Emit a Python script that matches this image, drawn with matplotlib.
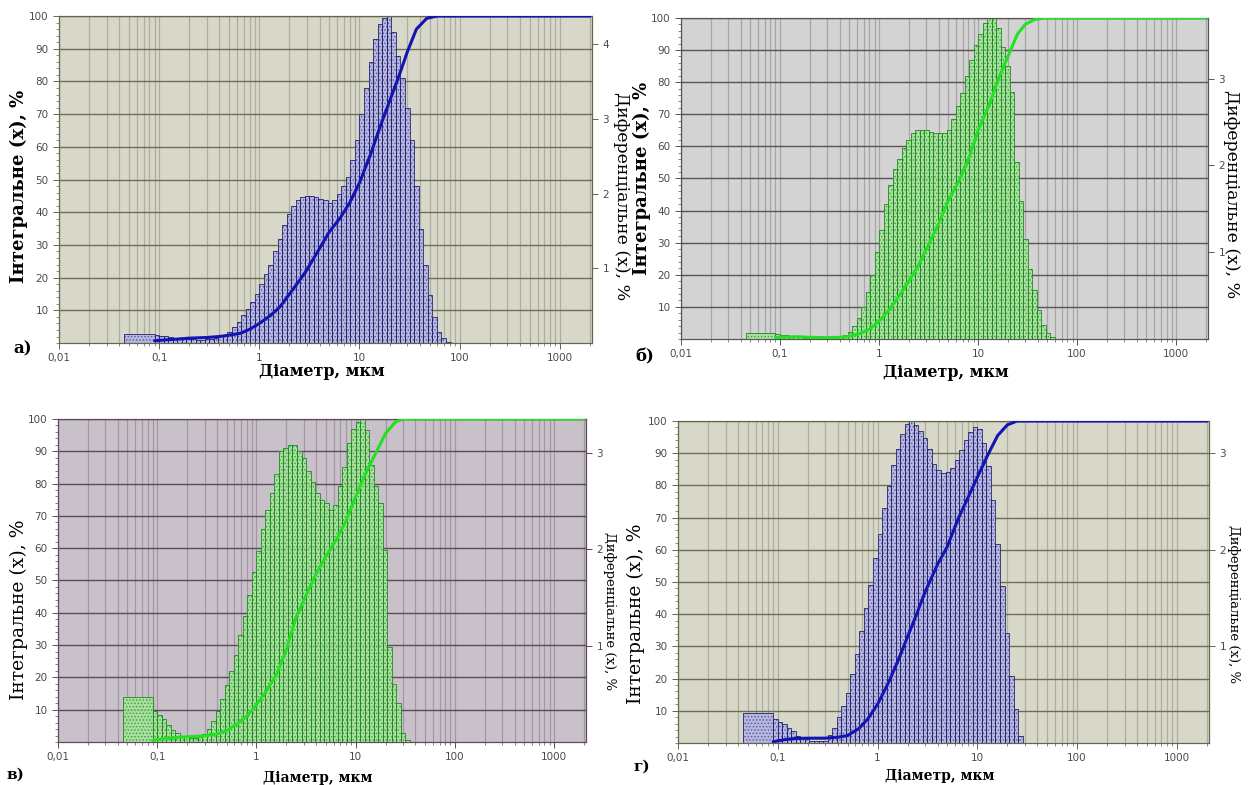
import numpy as np
import matplotlib
matplotlib.use('Agg')
import matplotlib.pyplot as plt
from matplotlib.ticker import MultipleLocator, FixedLocator, FixedFormatter, LogLocator, NullFormatter

plt.rcParams['hatch.linewidth'] = 0.7

# analyser channels: one wide channel 0.045-0.09 um, then 22 channels per decade from 0.09 um
first_channel = [0.045, 0.09]
channels_per_decade = 22
edges = 0.09 * 10 ** (np.arange(66) / channels_per_decade)

x_ticks = [0.01, 0.1, 1, 10, 100, 1000]
x_tick_labels = ['0,01', '0,1', '1', '10', '100', '1000']

# differential distribution, % (first wide channel + regular channels)
first_a, first_b, first_c, first_d = 0.12, 0.074, 0.47, 0.31
diff_a = [0.11, 0.10, 0.09, 0.08, 0.07, 0.065, 0.057, 0.053, 0.048, 0.044,
          0.044, 0.048, 0.057, 0.074, 0.088, 0.11, 0.15, 0.22, 0.28, 0.37,
          0.46, 0.55, 0.66, 0.79, 0.92, 1.05, 1.23, 1.40, 1.58, 1.73,
          1.84, 1.91, 1.95, 1.97, 1.97, 1.95, 1.93, 1.91, 1.88, 1.91,
          1.99, 2.10, 2.23, 2.45, 2.72, 3.07, 3.42, 3.77, 4.07, 4.27,
          4.36, 4.38, 4.16, 3.85, 3.55, 3.15, 2.72, 2.10, 1.53, 1.05,
          0.64, 0.35, 0.15, 0.066, 0.018]
diff_b = [0.059, 0.048, 0.041, 0.033, 0.026, 0.019, 0.015, 0.011, 0.011, 0.011,
          0.011, 0.011, 0.011, 0.015, 0.022, 0.044, 0.081, 0.15, 0.24, 0.37,
          0.54, 0.74, 1.00, 1.26, 1.55, 1.78, 1.96, 2.07, 2.20, 2.29,
          2.37, 2.41, 2.41, 2.41, 2.39, 2.37, 2.37, 2.37, 2.41, 2.53,
          2.68, 2.83, 3.03, 3.22, 3.39, 3.52, 3.64, 3.70, 3.70, 3.59,
          3.37, 3.15, 2.85, 2.04, 1.59, 1.15, 0.81, 0.56, 0.33, 0.16,
          0.07, 0.019]
diff_c = [0.325, 0.28, 0.24, 0.18, 0.124, 0.09, 0.067, 0.05, 0.04, 0.04,
          0.05, 0.084, 0.134, 0.22, 0.32, 0.45, 0.59, 0.74, 0.90, 1.11,
          1.31, 1.52, 1.76, 1.98, 2.21, 2.41, 2.58, 2.78, 3.02, 3.05,
          3.08, 3.08, 3.02, 2.95, 2.81, 2.70, 2.58, 2.51, 2.48, 2.41,
          2.46, 2.65, 2.85, 3.10, 3.25, 3.32, 3.35, 3.24, 2.87, 2.65,
          2.48, 1.99, 0.99, 0.60, 0.40, 0.094, 0.023]
diff_d = [0.25, 0.22, 0.20, 0.16, 0.12, 0.077, 0.06, 0.04, 0.023, 0.017,
          0.017, 0.023, 0.083, 0.16, 0.27, 0.38, 0.52, 0.71, 0.92, 1.16,
          1.40, 1.63, 1.91, 2.16, 2.43, 2.66, 2.87, 3.04, 3.20, 3.30,
          3.33, 3.29, 3.23, 3.15, 3.04, 2.89, 2.82, 2.79, 2.80, 2.84,
          2.93, 3.03, 3.13, 3.22, 3.27, 3.25, 3.10, 2.86, 2.51, 2.06,
          1.62, 1.14, 0.69, 0.35, 0.077]

# integral (cumulative) distribution, %
cum_size = [0.09, 0.12, 0.15, 0.2, 0.3, 0.4, 0.5, 0.65, 0.8, 1.0, 1.3, 1.6, 2.0, 2.5, 3.0,
            4.0, 5.0, 6.5, 8, 10, 13, 16, 20, 25, 30, 37, 47, 60, 2000]
cum_a = [0.7, 1.0, 1.2, 1.5, 1.7, 2.0, 2.4, 3.0, 4.2, 6.0, 8.5, 11, 15, 19, 22.5,
         29, 34, 38.5, 43, 49, 58, 66, 74, 82, 89, 96, 99.3, 100, 100]
cum_b = [0.5, 0.6, 0.7, 0.5, 0.4, 0.5, 0.8, 1.8, 3, 5.5, 9.5, 13.5, 18, 23, 28,
         36, 43, 49.5, 56, 65, 73, 81, 88, 95, 98, 99.5, 100, 100, 100]
cum_c = [0.5, 1.0, 1.4, 1.6, 1.9, 2.5, 3.5, 5.8, 8, 11.5, 16.5, 21, 28.5, 38.5, 44,
         52, 57.5, 63, 68.5, 76, 84, 89.5, 95.5, 99, 100, 100, 100, 100, 100]
cum_d = [0.4, 1.1, 1.4, 1.5, 1.5, 1.8, 2.3, 4.5, 7.5, 12, 19, 25.5, 33, 40.5, 47,
         55.5, 61, 70, 76, 82.5, 90, 95.5, 98.8, 100, 100, 100, 100, 100, 100]

olive = dict(bg='#d8d8ca', hgrid='#6e6e50', vgrid='#aeae9e', spine='#66664c')
grey = dict(bg='#d3d3d3', hgrid='#555555', vgrid='#a6a6a6', spine='#555555')
mauve = dict(bg='#c9c1c9', hgrid='#5a4a5a', vgrid='#a496a4', spine='#5a4a5a')
blue = dict(fill='#b6b6e2', dots='#5050a4', edge='#24246e', line='#1414b4')
green = dict(fill='#a8e49e', dots='#34a034', edge='#1f8a1f', line='#22e022')

# label anchors in axes coordinates: left label, x label, right label, panel letter
panels = [
    dict(rect=[0.047, 0.563, 0.4244, 0.4166], first=first_a, diff=diff_a, cum=cum_a, rmax=4.38,
         theme=olive, col=blue, letter='а)', big=True,
         pos=[(-0.058, 0.48), (0.493, -0.062), (1.071, 0.45), (-0.069, -0.018)]),
    dict(rect=[0.5422, 0.5682, 0.4196, 0.4089], first=first_b, diff=diff_b, cum=cum_b, rmax=3.70,
         theme=grey, col=green, letter='б)', big=True,
         pos=[(-0.057, 0.50), (0.503, -0.078), (1.061, 0.45), (-0.068, -0.056)]),
    dict(rect=[0.0462, 0.0548, 0.4204, 0.4115], first=first_c, diff=diff_c, cum=cum_c, rmax=3.35,
         theme=mauve, col=green, letter='в)', big=False,
         pos=[(-0.057, 0.41), (0.492, -0.09), (1.057, 0.405), (-0.08, -0.102)]),
    dict(rect=[0.5398, 0.0535, 0.4228, 0.4102], first=first_d, diff=diff_d, cum=cum_d, rmax=3.33,
         theme=olive, col=blue, letter='г)', big=False,
         pos=[(-0.062, 0.40), (0.493, -0.081), (1.058, 0.43), (-0.068, -0.075)]),
]

fig = plt.figure(figsize=(12.56, 7.85), dpi=100)
serif = 'DejaVu Serif'

for p in panels:
    th, col = p['theme'], p['col']
    ax = fig.add_axes(p['rect'])
    ax.set_facecolor(th['bg'])
    ax.set_xscale('log')
    ax.set_xlim(0.01, 2100)
    ax.set_ylim(0, 100)
    ax.xaxis.set_major_locator(FixedLocator(x_ticks))
    ax.xaxis.set_major_formatter(FixedFormatter(x_tick_labels))
    ax.xaxis.set_minor_locator(LogLocator(base=10, subs=np.arange(2, 10), numticks=20))
    ax.xaxis.set_minor_formatter(NullFormatter())
    ax.set_yticks(np.arange(10, 101, 10))
    ax.yaxis.set_minor_locator(MultipleLocator(2))
    ax.grid(axis='y', which='major', color=th['hgrid'], lw=1.0)
    ax.grid(axis='x', which='both', color=th['vgrid'], lw=0.9)
    ax.set_axisbelow(True)
    ax.tick_params(which='both', direction='out', colors=th['spine'], labelcolor='#4a4a4a',
                   labelsize=7.5)
    ax.tick_params(which='major', length=4, width=0.7)
    ax.tick_params(which='minor', length=2, width=0.5)
    for s in ax.spines.values():
        s.set_color(th['spine'])
        s.set_linewidth(0.8)

    # differential histogram on the right-hand scale
    ax2 = ax.twinx()
    n = len(p['diff'])
    lefts = np.concatenate([[first_channel[0]], edges[:n]])
    widths = np.concatenate([[first_channel[1] - first_channel[0]], np.diff(edges[:n + 1])])
    heights = np.concatenate([[p['first']], p['diff']])
    ax2.bar(lefts, heights, width=widths, align='edge', color=col['fill'], alpha=0.88,
            hatch='.....', edgecolor=col['dots'], linewidth=0)
    ax2.bar(lefts, heights, width=widths, align='edge', fill=False,
            edgecolor=col['edge'], linewidth=0.6)
    ax2.set_ylim(0, p['rmax'])
    ax2.set_yticks(np.arange(1, int(p['rmax']) + 1))
    ax2.tick_params(direction='out', length=4, width=0.7, colors=th['spine'],
                    labelcolor='#4a4a4a', labelsize=7.5)
    for s in ax2.spines.values():
        s.set_color(th['spine'])
        s.set_linewidth(0.8)

    # integral curve on the left-hand scale
    ax3 = ax.twinx()
    ax3.set_ylim(0, 100)
    ax3.plot(cum_size, p['cum'], color=col['line'], lw=2.2, solid_capstyle='round')
    ax3.axis('off')

    if p['big']:
        ax.set_ylabel('Інтегральне (x), %', fontsize=13, fontweight='bold', family=serif)
        ax.set_xlabel('Діаметр, мкм', fontsize=11.5, fontweight='bold', family=serif)
        ax2.set_ylabel('Диференціальне (x), %', fontsize=12.5, family=serif, rotation=270)
        letter_size = 12
    else:
        ax.set_ylabel('Інтегральне (x), %', fontsize=13.5, family=serif)
        ax.set_xlabel('Діаметр, мкм', fontsize=10, fontweight='bold', family=serif)
        ax2.set_ylabel('Диференціальне (x), %', fontsize=9.5, family=serif, rotation=270)
        letter_size = 11
    ly, lx, lr, lt = p['pos']
    ax.yaxis.set_label_coords(*ly)
    ax.xaxis.set_label_coords(*lx)
    ax2.yaxis.set_label_coords(*lr)
    ax.text(lt[0], lt[1], p['letter'], transform=ax.transAxes, fontsize=letter_size,
            fontweight='bold', family=serif, ha='center', va='center')

fig.savefig('out.png', dpi=100, facecolor='white')
